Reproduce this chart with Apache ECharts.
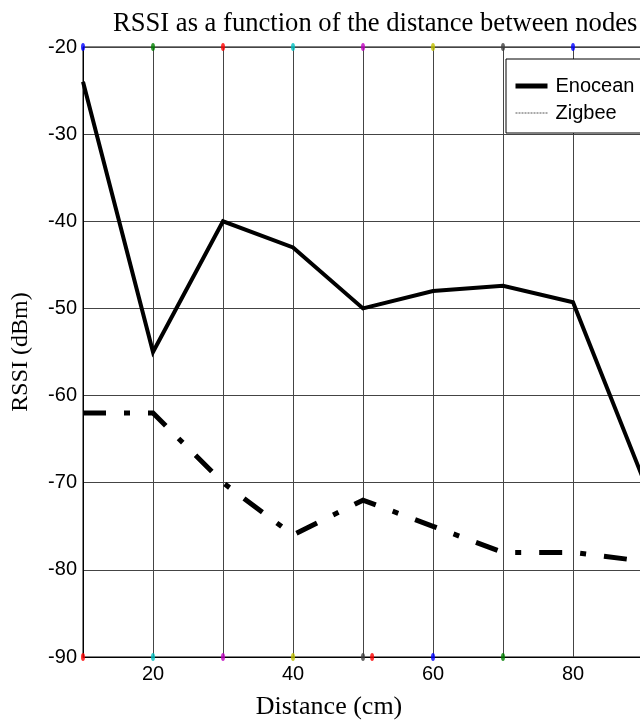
<!DOCTYPE html>
<html>
<head>
<meta charset="utf-8">
<script src="https://cdn.jsdelivr.net/npm/echarts@6/dist/echarts.min.js"></script>
<style>
html,body{margin:0;padding:0;background:#fff;}
#chart{width:640px;height:724px;}
</style>
</head>
<body>
<div id="chart"></div>
<script>
// ---- data ----
var distance = [10, 20, 30, 40, 50, 60, 70, 80, 90];
var enocean  = [-24, -55, -40, -43, -50, -48, -47.4, -49.3, -69.5];
var zigbee   = [-62, -62, -70, -76, -72, -75, -78, -78, -79];
var seriesNames = ['Enocean', 'Zigbee'];
var xTickLabels = [20, 40, 60, 80];
var yTickLabels = [-20, -30, -40, -50, -60, -70, -80, -90];
// edge markers (matlab artefacts) : x positions along top / bottom axis
var topMarkerX    = [10, 20, 30, 40, 50, 60, 70, 80];
var bottomMarkerX = [10, 20, 30, 40, 50, 51.3, 60, 70];

// ---- styles ----
var topMarkerColors    = ['#0000ff', '#008000', '#ff0000', '#00bfbf', '#bf00bf', '#bfbf00', '#404040', '#0000ff'];
var bottomMarkerColors = ['#ff0000', '#00bfbf', '#bf00bf', '#bfbf00', '#404040', '#ff0000', '#0000ff', '#008000'];

function pairs(xs, ys) { return xs.map(function (x, i) { return [x, ys[i]]; }); }
function edge(xs, y, colors) {
  return xs.map(function (x, i) { return { value: [x, y], itemStyle: { color: colors[i] } }; });
}

var chart = echarts.init(document.getElementById('chart'), null, { renderer: 'canvas' });
var serif = '"Liberation Serif", "Times New Roman", serif';
var sans = '"Liberation Sans", Arial, sans-serif';

chart.setOption({
  animation: false,
  backgroundColor: '#fff',
  title: {
    text: 'RSSI as a function of the distance between nodes',
    left: 113, top: 11, padding: 0,
    textStyle: { fontFamily: serif, fontWeight: 'normal', fontSize: 26.6, color: '#000' }
  },
  grid: {
    left: 83, top: 47, width: 560, height: 610,
    containLabel: false, outerBoundsMode: 'none',
    show: true, borderColor: '#000', borderWidth: 1, backgroundColor: 'transparent'
  },
  legend: {
    orient: 'vertical',
    left: 506, top: 59,
    padding: [17, 10, 10, 7],
    itemGap: 7,
    itemWidth: 32, itemHeight: 14,
    backgroundColor: '#fff',
    borderColor: '#000', borderWidth: 1, borderRadius: 0,
    itemStyle: { opacity: 0 },
    textStyle: { fontFamily: sans, fontSize: 20, color: '#000', padding: [0, 0, 0, 3] },
    data: [
      { name: seriesNames[0], lineStyle: { width: 5, color: '#000', type: 'solid' } },
      { name: seriesNames[1], lineStyle: { width: 1, color: '#555', type: [2, 1] } }
    ]
  },
  xAxis: {
    type: 'value', min: 10, max: 90, interval: 10,
    name: 'Distance (cm)', nameLocation: 'middle', nameGap: 37,
    nameTextStyle: { fontFamily: serif, fontSize: 26, color: '#000', padding: [0, 68, 0, 0] },
    axisLine: { show: true, lineStyle: { color: '#000', width: 1 } },
    axisTick: { show: false },
    axisLabel: {
      margin: 7, fontFamily: sans, fontSize: 20, color: '#000',
      formatter: function (v) { return xTickLabels.indexOf(v) >= 0 ? String(v) : ''; }
    },
    splitLine: { show: true, lineStyle: { color: '#444', width: 1 } }
  },
  yAxis: {
    type: 'value', min: -90, max: -20, interval: 10,
    name: 'RSSI (dBm)', nameLocation: 'middle', nameGap: 50, nameRotate: 90,
    nameTextStyle: { fontFamily: serif, fontSize: 24, color: '#000' },
    axisLine: { show: true, lineStyle: { color: '#000', width: 1 } },
    axisTick: { show: false },
    axisLabel: {
      margin: 6, fontFamily: sans, fontSize: 20, color: '#000',
      formatter: function (v) { return yTickLabels.indexOf(v) >= 0 ? String(v) : ''; }
    },
    splitLine: { show: true, lineStyle: { color: '#444', width: 1 } }
  },
  series: [
    {
      name: seriesNames[0], type: 'line', data: pairs(distance, enocean),
      symbol: 'none', clip: true,
      lineStyle: { color: '#000', width: 4, join: 'miter' },
      itemStyle: { color: '#000' }, z: 3
    },
    {
      name: seriesNames[1], type: 'line', data: pairs(distance, zigbee),
      symbol: 'none', clip: true,
      lineStyle: { color: '#000', width: 5, type: [23, 18, 6, 18], cap: 'butt', join: 'miter' },
      itemStyle: { color: '#000' }, z: 3
    },
    {
      name: 'topEdge', type: 'scatter', data: edge(topMarkerX, -20, topMarkerColors),
      symbol: 'circle', symbolSize: [4, 8], clip: false, z: 4, silent: true
    },
    {
      name: 'bottomEdge', type: 'scatter', data: edge(bottomMarkerX, -90, bottomMarkerColors),
      symbol: 'circle', symbolSize: [4, 8], clip: false, z: 4, silent: true
    }
  ]
});
</script>
</body>
</html>
